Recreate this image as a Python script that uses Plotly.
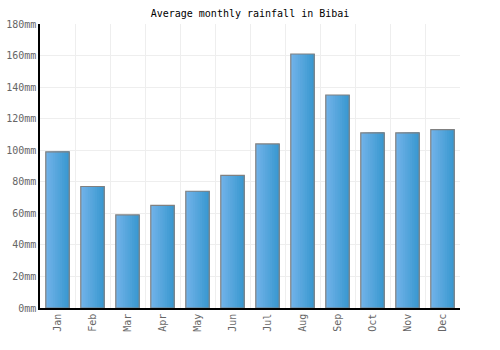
import plotly.graph_objects as go

months = ["Jan", "Feb", "Mar", "Apr", "May", "Jun", "Jul", "Aug", "Sep", "Oct", "Nov", "Dec"]
rainfall_mm = [99, 77, 59, 65, 74, 84, 104, 161, 135, 111, 111, 113]
title_text = "Average monthly rainfall in Bibai"

x_idx = list(range(len(months)))
bar_w = 0.67
n_slices = 10
c0 = (112, 178, 232)
c1 = (58, 152, 208)

fig = go.Figure()
w = bar_w / n_slices
for i in range(n_slices):
    t = i / (n_slices - 1)
    col = tuple(round(c0[k] + (c1[k] - c0[k]) * t) for k in range(3))
    start = -bar_w / 2 + i * w
    width = bar_w / 2 - start  # extend to the right edge; later slices overlay
    fig.add_trace(go.Bar(
        x=x_idx, y=rainfall_mm,
        width=width, offset=start,
        marker=dict(color="rgb(%d,%d,%d)" % col, line=dict(width=0)),
        showlegend=False, hoverinfo="skip",
    ))
fig.add_trace(go.Bar(
    x=x_idx, y=rainfall_mm, width=bar_w,
    marker=dict(color="rgba(0,0,0,0)", line=dict(color="#808080", width=1.2)),
    showlegend=False,
))

fig.update_layout(
    barmode="overlay",
    width=500, height=350,
    margin=dict(l=40, r=40, t=24, b=42),
    paper_bgcolor="white", plot_bgcolor="white",
    font=dict(family="DejaVu Sans Mono", size=10, color="#666"),
    title=dict(text=title_text, x=0.5, xanchor="center", y=1 - 13 / 350, yanchor="middle",
               font=dict(family="DejaVu Sans Mono", size=10, color="black")),
    xaxis=dict(
        range=[-0.5, 11.5], tickmode="array", tickvals=x_idx, ticktext=months,
        tickangle=-90, showgrid=False, zeroline=False, automargin=False,
        showline=True, linecolor="black", linewidth=1.5, ticks="",
        minor=dict(tick0=0.5, dtick=1, showgrid=True, gridcolor="#eeeeee", gridwidth=1),
    ),
    yaxis=dict(
        range=[0, 180], dtick=20, ticksuffix="mm", showgrid=True, gridcolor="#eeeeee",
        zeroline=False, showline=True, linecolor="black", linewidth=1.5, ticks="",
        automargin=False,
    ),
)
fig.write_html("out.html")
